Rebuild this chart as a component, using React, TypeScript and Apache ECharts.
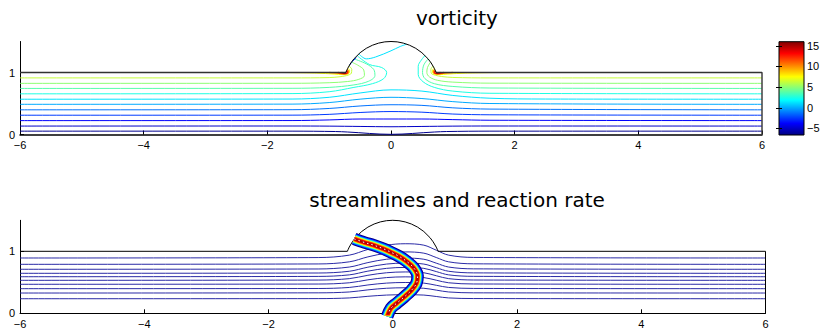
import React, { useEffect, useRef } from "react";
import * as echarts from "echarts";

// ---------- data ----------
const X_TICKS = [-6, -4, -2, 0, 2, 4, 6];
const Y_TICKS = [0, 1];
const CB_TICKS = [-5, 0, 5, 10, 15];
const CB_MIN = -6.6;
const CB_MAX = 16;

const WALL_LEFT = [[-6, 1], [-0.73, 1]];
const WALL_BUMP = [
  [-0.73, 1.0], [-0.72, 1.025], [-0.7, 1.068], [-0.65, 1.153], [-0.6, 1.22], [-0.5, 1.319],
  [-0.4, 1.39], [-0.3, 1.44], [-0.2, 1.474], [-0.1, 1.494], [0, 1.5], [0.1, 1.494], [0.2, 1.474],
  [0.3, 1.44], [0.4, 1.39], [0.5, 1.319], [0.6, 1.22], [0.65, 1.153], [0.7, 1.068], [0.72, 1.025], [0.73, 1.0],
];
const WALL_RIGHT = [[0.73, 1], [6, 1], [6, 0]];

// vorticity contour lines (level, points)
const VL1 = [[-6, 0.913], [-1.6, 0.913], [-1.0, 0.918], [-0.84, 0.93], [-0.72, 0.95], [-0.64, 0.99], [-0.635, 1.05], [-0.68, 1.105]];
const VL2 = [[-6, 0.825], [-1.6, 0.826], [-1.0, 0.835], [-0.7, 0.855], [-0.52, 0.89], [-0.43, 0.95], [-0.44, 1.04], [-0.54, 1.12], [-0.64, 1.168]];
const VL3 = [[-6, 0.743], [-1.6, 0.745], [-1.0, 0.76], [-0.6, 0.8], [-0.36, 0.86], [-0.26, 0.95], [-0.28, 1.05], [-0.4, 1.14], [-0.6, 1.22]];
const VL4 = [[-6, 0.656], [-1.6, 0.66], [-1.0, 0.69], [-0.6, 0.76], [-0.3, 0.82], [-0.12, 0.9], [-0.07, 1.0], [-0.15, 1.08], [-0.35, 1.13], [-0.55, 1.274]];
const VR1 = [[6, 0.913], [1.6, 0.913], [1.0, 0.92], [0.82, 0.935], [0.72, 0.955], [0.65, 0.99], [0.645, 1.05], [0.68, 1.105]];
const VR2 = [[6, 0.825], [1.6, 0.828], [1.0, 0.845], [0.75, 0.875], [0.62, 0.93], [0.58, 1.0], [0.59, 1.08], [0.64, 1.168]];
const VR3 = [[6, 0.743], [1.6, 0.75], [1.0, 0.775], [0.7, 0.82], [0.55, 0.9], [0.51, 1.0], [0.53, 1.12], [0.6, 1.22]];
const VR4 = [[6, 0.656], [1.6, 0.665], [1.0, 0.7], [0.7, 0.76], [0.52, 0.85], [0.44, 0.97], [0.44, 1.1], [0.49, 1.2], [0.55, 1.274]];
const V5 = [[-6, 0.569], [-1.6, 0.572], [-1.0, 0.6], [-0.5, 0.67], [0, 0.72], [0.5, 0.7], [1.0, 0.63], [1.6, 0.585], [2.5, 0.572], [6, 0.569]];
const V6 = [[-6, 0.487], [-1.6, 0.49], [-1.0, 0.515], [-0.5, 0.57], [0, 0.6], [0.5, 0.58], [1.0, 0.53], [1.6, 0.5], [6, 0.487]];
const V7 = [[-6, 0.398], [-1.6, 0.4], [-1.0, 0.42], [-0.5, 0.46], [0, 0.48], [0.5, 0.47], [1.0, 0.43], [1.6, 0.41], [6, 0.398]];
const V8 = [[-6, 0.311], [-1.6, 0.312], [-1.0, 0.325], [-0.5, 0.355], [0, 0.37], [0.5, 0.36], [1.0, 0.33], [1.6, 0.318], [6, 0.311]];
const V9 = [[-6, 0.224], [-1.6, 0.225], [-1.0, 0.235], [-0.5, 0.25], [0, 0.25], [0.5, 0.25], [1.0, 0.24], [1.6, 0.23], [6, 0.224]];
const V10 = [[-6, 0.136], [-1.6, 0.137], [-1.0, 0.135], [-0.5, 0.13], [0, 0.125], [0.5, 0.13], [1.0, 0.135], [1.6, 0.137], [6, 0.136]];
const V11 = [[-6, 0.054], [-1.6, 0.054], [-0.9, 0.048], [-0.7, 0.04], [0, 0.003], [0.7, 0.04], [0.9, 0.048], [1.6, 0.054], [6, 0.054]];
const V_INNER = [[-0.52, 1.3], [-0.4, 1.22], [-0.25, 1.25], [0.0, 1.35], [0.15, 1.42], [0.25, 1.455]];
const V_WALLBLUE = [[-0.67, 1.12], [-0.62, 1.18], [-0.56, 1.24]];
// corner arcs (left corner); right corner mirrored
const A1 = [[-1.75, 1.0], [-1.2, 0.99], [-0.92, 0.975], [-0.78, 0.965], [-0.7, 0.975], [-0.67, 1.0], [-0.67, 1.04], [-0.7, 1.068]];
const A2 = [[-1.0, 1.0], [-0.85, 0.985], [-0.76, 0.975], [-0.7, 0.985], [-0.685, 1.02], [-0.71, 1.047]];
const A3 = [[-0.86, 1.0], [-0.78, 0.985], [-0.72, 0.988], [-0.705, 1.01], [-0.72, 1.025]];
const A4 = [[-0.8, 1.0], [-0.75, 0.99], [-0.725, 1.0]];
const ARC_LEVELS = [7.5, 10, 12.5, 15];
const ARC_WIDTHS = [1, 1.3, 1.6, 1.8];

const VORT_SET: [number, number[][]][] = [
  [6.25, VL1], [5, VL2], [3.75, VL3], [2.5, VL4],
  [6.25, VR1], [5, VR2], [3.75, VR3], [2.5, VR4],
  [1.25, V5], [0, V6], [-1.25, V7], [-2.5, V8], [-3.75, V9], [-5, V10], [-6.25, V11],
  [1.25, V_INNER], [-2.5, V_WALLBLUE],
];
const ARCS = [A1, A2, A3, A4];

// streamlines (bottom plot)
const S1 = [[-6, 0.892], [-1.2, 0.899], [-0.7, 0.938], [-0.4, 1.03], [-0.1, 1.099], [0.2, 1.122], [0.5, 1.099], [0.7, 1.018], [0.9, 0.938], [1.3, 0.901], [6, 0.892]];
const S2 = [[-6, 0.79], [-1.2, 0.796], [-0.7, 0.83], [-0.4, 0.91], [-0.1, 0.97], [0.2, 0.99], [0.5, 0.97], [0.7, 0.9], [0.9, 0.83], [1.3, 0.798], [6, 0.79]];
const S3 = [[-6, 0.71], [-1.2, 0.715], [-0.7, 0.746], [-0.4, 0.818], [-0.1, 0.872], [0.2, 0.89], [0.5, 0.872], [0.7, 0.809], [0.9, 0.746], [1.3, 0.717], [6, 0.71]];
const S4 = [[-6, 0.645], [-1.2, 0.65], [-0.7, 0.678], [-0.4, 0.744], [-0.1, 0.794], [0.2, 0.81], [0.5, 0.794], [0.7, 0.736], [0.9, 0.678], [1.3, 0.652], [6, 0.645]];
const S5 = [[-6, 0.59], [-1.2, 0.595], [-0.7, 0.62], [-0.4, 0.68], [-0.1, 0.725], [0.2, 0.74], [0.5, 0.725], [0.7, 0.673], [0.9, 0.62], [1.3, 0.596], [6, 0.59]];
const S6 = [[-6, 0.532], [-1.2, 0.536], [-0.7, 0.559], [-0.4, 0.613], [-0.1, 0.654], [0.2, 0.667], [0.5, 0.654], [0.7, 0.606], [0.9, 0.559], [1.3, 0.537], [6, 0.532]];
const S7 = [[-6, 0.468], [-1.2, 0.472], [-0.7, 0.492], [-0.4, 0.54], [-0.1, 0.576], [0.2, 0.588], [0.5, 0.576], [0.7, 0.534], [0.9, 0.492], [1.3, 0.473], [6, 0.468]];
const S8 = [[-6, 0.397], [-1.2, 0.4], [-0.7, 0.417], [-0.4, 0.457], [-0.1, 0.487], [0.2, 0.497], [0.5, 0.487], [0.7, 0.452], [0.9, 0.417], [1.3, 0.401], [6, 0.397]];
const S9 = [[-6, 0.327], [-1.2, 0.33], [-0.7, 0.344], [-0.4, 0.378], [-0.1, 0.404], [0.2, 0.412], [0.5, 0.404], [0.7, 0.374], [0.9, 0.344], [1.3, 0.33], [6, 0.327]];
const S10 = [[-6, 0.235], [-1.2, 0.237], [-0.7, 0.248], [-0.4, 0.274], [-0.1, 0.294], [0.2, 0.3], [0.5, 0.294], [0.7, 0.271], [0.9, 0.248], [1.3, 0.238], [6, 0.235]];
const STREAMLINES = [S1, S2, S3, S4, S5, S6, S7, S8, S9, S10];

// reaction-rate front centreline
const FRONT = [
  [-0.62, 1.2], [-0.45, 1.14], [-0.31, 1.1], [-0.15, 1.04], [-0.04, 0.99], [0.1, 0.92], [0.22, 0.84],
  [0.34, 0.73], [0.4, 0.6], [0.38, 0.48], [0.3, 0.37], [0.18, 0.26], [0.06, 0.16], [-0.03, 0.08], [-0.09, -0.05],
];

// ---------- styling helpers ----------
function jet(v: number): string {
  const t = Math.min(1, Math.max(0, (v - CB_MIN) / (CB_MAX - CB_MIN)));
  const c = (x: number) => Math.round(255 * Math.min(1, Math.max(0, 1.5 - Math.abs(x))));
  return `rgb(${c(4 * t - 3)},${c(4 * t - 2)},${c(4 * t - 1)})`;
}
const mirror = (pts: number[][]) => pts.map(([x, y]) => [-x, y]);
const fmt = (v: number) => String(v).replace("-", "\u2212");

const BAND_LAYERS: [number, string, number[] | null][] = [
  [12.5, "#00007a", null],
  [11, "#0000ff", null],
  [9.6, "#0070ff", null],
  [8.2, "#00e8ff", null],
  [7, "#90ff70", null],
  [6, "#ffff00", null],
  [5, "#ff9000", null],
  [4, "#ff1000", null],
  [2.4, "#b00000", null],
  [1, "#ffffff", [1.5, 3]],
];

export default function App() {
  const ref = useRef<HTMLDivElement>(null);
  useEffect(() => {
    const chart = echarts.init(ref.current!, null, { renderer: "svg" });
    const mk = (data: number[][], color: string, width: number, g: number, extra: any = {}) => ({
      type: "line", data, xAxisIndex: g, yAxisIndex: g, symbol: "none", showSymbol: false,
      smooth: 0.35, silent: true, lineStyle: { color, width }, ...extra,
    });
    const series: any[] = [];
    VORT_SET.forEach(([lv, pts]) => {
      series.push(mk(pts, jet(lv), 1, 0));
    });
    ARCS.forEach((pts, i) => {
      series.push(mk(pts, jet(ARC_LEVELS[i]), ARC_WIDTHS[i], 0, { z: 3 }));
      series.push(mk(mirror(pts), jet(ARC_LEVELS[i]), ARC_WIDTHS[i], 0, { z: 3 }));
    });
    [0, 1].forEach((g) => {
      const wc = g === 0 ? "#333" : "#000";
      series.push(mk(WALL_LEFT, wc, g === 0 ? 1.4 : 1, g, { smooth: false, clip: false, z: 5 }));
      series.push(mk(WALL_RIGHT, wc, g === 0 ? 1.4 : 1, g, { smooth: false, clip: false, z: 5 }));
      series.push(mk(WALL_BUMP, "#000", 1, g, { smooth: false, clip: false, z: 5 }));
    });
    STREAMLINES.forEach((pts) => series.push(mk(pts, "#2a2aa6", 1, 1)));
    BAND_LAYERS.forEach(([w, c, dash], i) =>
      series.push(mk(FRONT, c, w, 1, { z: 10 + i, lineStyle: { color: c, width: w, type: dash || "solid", cap: "butt" } }))
    );

    const xAxisBase = (g: number, lw: number) => ({
      type: "value", gridIndex: g, min: -6, max: 6, interval: 2,
      axisLine: { show: true, onZero: false, lineStyle: { color: "#000", width: lw } },
      axisTick: { show: true, inside: true, length: 4, lineStyle: { color: "#000" }, customValues: X_TICKS },
      axisLabel: { formatter: fmt, color: "#000", fontSize: 11, fontFamily: "Liberation Sans", margin: 5, customValues: X_TICKS },
      splitLine: { show: false },
    });
    const yAxisBase = (g: number) => ({
      type: "value", gridIndex: g, min: 0, max: 1.5, interval: 1,
      axisLine: { show: true, onZero: false, lineStyle: { color: "#000" } },
      axisTick: { show: true, inside: true, length: 4, lineStyle: { color: "#000" }, customValues: Y_TICKS },
      axisLabel: { formatter: fmt, color: "#000", fontSize: 11, fontFamily: "Liberation Sans", margin: 5, customValues: Y_TICKS },
      splitLine: { show: false },
    });
    const cbAxis = (pos: string, showLabel: boolean) => ({
      type: "value", gridIndex: 2, position: pos, min: CB_MIN, max: CB_MAX, z: 10,
      axisLine: { show: false },
      axisTick: { show: true, inside: true, length: 3, lineStyle: { color: "#000" }, customValues: CB_TICKS },
      axisLabel: { show: showLabel, formatter: fmt, color: "#000", fontSize: 11, fontFamily: "Liberation Sans", margin: 3, customValues: CB_TICKS },
      splitLine: { show: false },
    });

    chart.setOption({
      animation: false,
      grid: [
        { left: 20, width: 742, top: 41.5, height: 93, outerBoundsMode: "none" },
        { left: 20, width: 745.5, top: 220.3, height: 93, outerBoundsMode: "none" },
        { left: 779, width: 25, top: 41.7, height: 93.3, outerBoundsMode: "none" },
      ],
      xAxis: [xAxisBase(0, 1.5), xAxisBase(1, 1), { type: "value", gridIndex: 2, min: 0, max: 1, show: false }],
      yAxis: [yAxisBase(0), yAxisBase(1), cbAxis("right", true), cbAxis("left", false)],
      graphic: [
        {
          type: "rect", z: -1, shape: { x: 779, y: 41.7, width: 25, height: 93.3 },
          style: {
            stroke: "#000", lineWidth: 1,
            fill: new echarts.graphic.LinearGradient(0, 0, 0, 1, [
              { offset: 0, color: "#800000" }, { offset: 0.125, color: "#ff0000" },
              { offset: 0.375, color: "#ffff00" }, { offset: 0.625, color: "#00ffff" },
              { offset: 0.875, color: "#0000ff" }, { offset: 1, color: "#000080" },
            ]),
          },
        },
        { type: "text", x: 457, y: 18, style: { text: "vorticity", fontSize: 20, fontFamily: "DejaVu Sans", fill: "#000", align: "center", verticalAlign: "middle" } },
        { type: "text", x: 457, y: 200, style: { text: "streamlines and reaction rate", fontSize: 20, fontFamily: "DejaVu Sans", fill: "#000", align: "center", verticalAlign: "middle" } },
      ],
      series,
    });
    return () => chart.dispose();
  }, []);
  return <div ref={ref} style={{ position: "fixed", left: 0, top: 0, width: 824, height: 329, background: "#fff" }} />;
}
